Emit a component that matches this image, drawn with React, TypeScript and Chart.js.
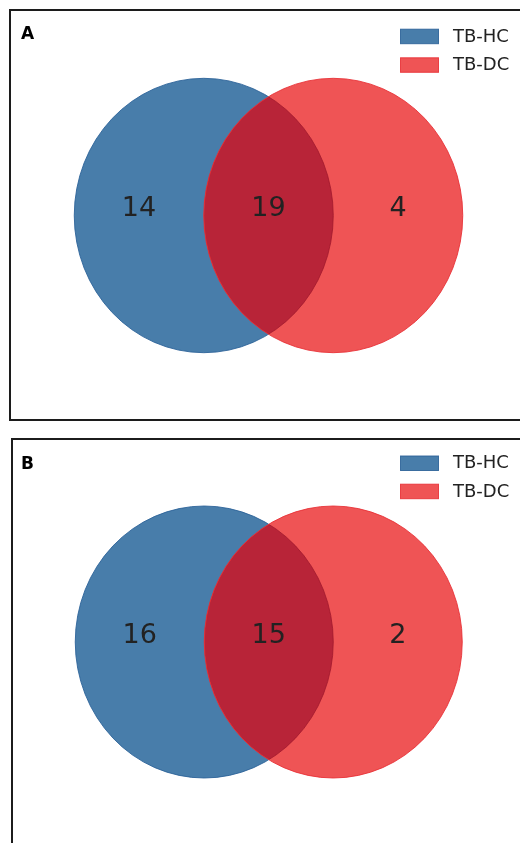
import React, { useEffect, useRef } from "react";
import { Chart, registerables } from "chart.js";

Chart.register(...registerables);

// ---- data ----
const setNames = ["TB-HC", "TB-DC"];
const panelLetters = ["A", "B"];
const hcOnlyCounts = [14, 16];
const sharedCounts = [19, 15];
const dcOnlyCounts = [4, 2];

// ---- styles ----
const FONT = "'DejaVu Sans', 'Liberation Sans', sans-serif";
const BLUE = "#487daa";
const RED = "#ef5455";
const OVERLAP = "#b82438";
const BLUE_EDGE = "rgba(40,95,150,0.85)";
const RED_EDGE = "rgba(232,45,50,0.85)";
const OVERLAP_EDGE = "rgba(160,25,45,0.8)";
const TEXT = "#222222";

type Layout = {
  left: number;
  top: number;
  width: number;
  height: number;
  border: number;
  cx: number;
  cy: number;
  ux: number;
  uy: number;
  letterBaseline: number;
  legendTops: number[];
};

const layouts: Layout[] = [
  { left: 9, top: 9, width: 560, height: 412, border: 2, cx: 268.5, cy: 215.5, ux: 129.5, uy: 137.2, letterBaseline: 38.5, legendTops: [29.2, 57.8] },
  { left: 11, top: 438, width: 560, height: 440, border: 2, cx: 268.75, cy: 642, ux: 129, uy: 136, letterBaseline: 468.5, legendTops: [456, 484.2] },
];

function Panel({ idx }: { idx: number }) {
  const ref = useRef<HTMLCanvasElement | null>(null);
  const L = layouts[idx];
  const ox = L.left + L.border;
  const oy = L.top + L.border;
  const cw = L.width - 2 * L.border;
  const ch = L.height - 2 * L.border;

  useEffect(() => {
    const canvas = ref.current;
    if (!canvas) return;
    const lx = L.cx - ox;
    const ly = L.cy - oy;
    const xMin = -lx / L.ux;
    const xMax = (cw - lx) / L.ux;
    const yMax = ly / L.uy;
    const yMin = (ly - ch) / L.uy;

    const circleRadius = 1;
    const counts = [hcOnlyCounts[idx], sharedCounts[idx], dcOnlyCounts[idx]];

    const vennPlugin = {
      id: "venn",
      beforeDatasetsDraw(chart: any) {
        const ctx = chart.ctx;
        const xs = chart.scales.x;
        const ys = chart.scales.y;
        const rx = Math.abs(xs.getPixelForValue(circleRadius) - xs.getPixelForValue(0));
        const ry = Math.abs(ys.getPixelForValue(circleRadius) - ys.getPixelForValue(0));
        const p0 = chart.getDatasetMeta(0).data[0];
        const p1 = chart.getDatasetMeta(1).data[0];
        const ell = (p: any) => {
          ctx.beginPath();
          ctx.ellipse(p.x, p.y, rx, ry, 0, 0, Math.PI * 2);
        };
        ctx.save();
        ctx.lineWidth = 1;
        ell(p0);
        ctx.fillStyle = BLUE;
        ctx.fill();
        ctx.strokeStyle = BLUE_EDGE;
        ctx.stroke();
        ell(p1);
        ctx.fillStyle = RED;
        ctx.fill();
        ctx.save();
        ell(p0);
        ctx.clip();
        ell(p1);
        ctx.fillStyle = OVERLAP;
        ctx.fill();
        ctx.restore();
        // faint edge of first circle showing through the overlap
        ctx.save();
        ell(p1);
        ctx.clip();
        ell(p0);
        ctx.strokeStyle = OVERLAP_EDGE;
        ctx.stroke();
        ctx.restore();
        ell(p1);
        ctx.strokeStyle = RED_EDGE;
        ctx.stroke();
        ctx.restore();
      },
      afterDatasetsDraw(chart: any) {
        const ctx = chart.ctx;
        ctx.save();
        // region counts
        const meta = chart.getDatasetMeta(2);
        ctx.fillStyle = TEXT;
        ctx.font = `27px ${FONT}`;
        ctx.textAlign = "center";
        ctx.textBaseline = "alphabetic";
        meta.data.forEach((pt: any, i: number) => {
          ctx.fillText(String(counts[i]), pt.x, pt.y + 0.5);
        });
        // panel letter
        ctx.fillStyle = "#000";
        ctx.font = `bold 17px ${FONT}`;
        ctx.textAlign = "left";
        ctx.fillText(panelLetters[idx], 21 - ox, L.letterBaseline - oy);
        // legend
        const colors = [BLUE, RED];
        const edges = [BLUE_EDGE, RED_EDGE];
        ctx.font = `18px ${FONT}`;
        setNames.forEach((name, i) => {
          const top = L.legendTops[i] - oy;
          ctx.fillStyle = colors[i];
          ctx.fillRect(400.5 - ox, top, 38, 14.5);
          ctx.strokeStyle = edges[i];
          ctx.lineWidth = 1;
          ctx.strokeRect(400.5 - ox, top, 38, 14.5);
          ctx.fillStyle = TEXT;
          ctx.textBaseline = "middle";
          ctx.fillText(name, 453 - ox, top + 7.8);
        });
        ctx.restore();
      },
    };

    const chart = new Chart(canvas, {
      type: "scatter",
      data: {
        datasets: [
          { label: setNames[0], data: [{ x: -0.5, y: 0 }], pointRadius: 0 },
          { label: setNames[1], data: [{ x: 0.5, y: 0 }], pointRadius: 0 },
          { label: "counts", data: [{ x: -1, y: 0 }, { x: 0, y: 0 }, { x: 1, y: 0 }], pointRadius: 0 },
        ],
      },
      options: {
        animation: false,
        responsive: false,
        devicePixelRatio: 1,
        events: [],
        layout: { padding: 0 },
        plugins: { legend: { display: false }, tooltip: { enabled: false }, title: { display: false } },
        scales: {
          x: { type: "linear", min: xMin, max: xMax, display: false },
          y: { type: "linear", min: yMin, max: yMax, display: false },
        },
      },
      plugins: [vennPlugin],
    } as any);
    return () => chart.destroy();
  }, [idx]);

  return (
    <div
      style={{
        position: "absolute",
        left: L.left,
        top: L.top,
        width: L.width,
        height: L.height,
        boxSizing: "border-box",
        border: `${L.border}px solid #1c1c1c`,
        background: "#fff",
      }}
    >
      <canvas ref={ref} width={cw} height={ch} style={{ display: "block", width: cw, height: ch }} />
    </div>
  );
}

export default function App() {
  return (
    <div style={{ position: "absolute", left: 0, top: 0, width: 520, height: 843, overflow: "hidden", background: "#fff" }}>
      <Panel idx={0} />
      <Panel idx={1} />
    </div>
  );
}
